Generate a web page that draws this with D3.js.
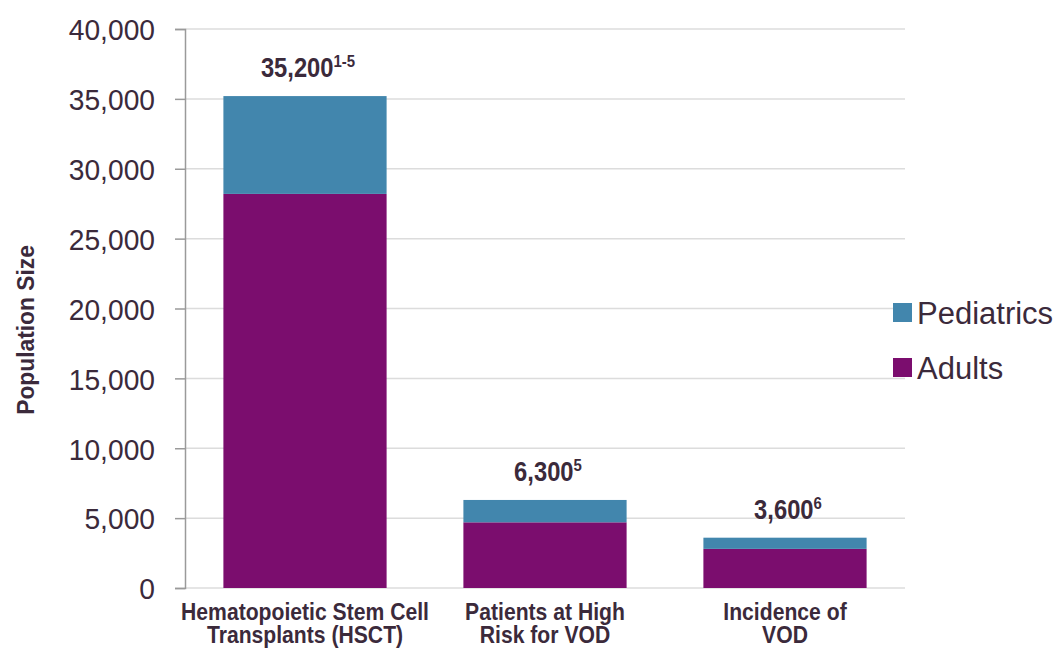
<!DOCTYPE html>
<html>
<head>
<meta charset="utf-8">
<script src="https://cdn.jsdelivr.net/npm/d3@7"></script>
<style>
  html, body { margin: 0; padding: 0; background: #ffffff; }
  svg { display: block; }
  text { font-family: "Liberation Sans", Arial, sans-serif; fill: #3b2a3b; }
</style>
</head>
<body>
<svg id="chart" width="1063" height="657"></svg>
<script>
// Population sizes by patient group
const categories = [
  ["Hematopoietic Stem Cell", "Transplants (HSCT)"],
  ["Patients at High", "Risk for VOD"],
  ["Incidence of", "VOD"]
];
const adults = [28200, 4700, 2800];
const pediatrics = [7000, 1600, 800];
const totalLabels = ["35,200", "6,300", "3,600"];
const totalRefs = ["1-5", "5", "6"];
const yTicks = [0, 5000, 10000, 15000, 20000, 25000, 30000, 35000, 40000];
const seriesNames = ["Adults", "Pediatrics"];
const seriesColors = ["#7b0d6e", "#4286ad"];

const svg = d3.select("#chart");
const catKeys = categories.map(c => c.join(" "));

const rows = catKeys.map((k, i) => ({ key: k, Adults: adults[i], Pediatrics: pediatrics[i] }));
const stacked = d3.stack().keys(seriesNames)(rows);

const x = d3.scaleBand()
  .domain(catKeys)
  .range([185, 905])
  .paddingInner(0.32)
  .paddingOuter(0.16);

const y = d3.scaleLinear()
  .domain([0, 40000])
  .range([588, 29]);

const color = d3.scaleOrdinal().domain(seriesNames).range(seriesColors);

// slight horizontal condensing used for the heavier text
const squeeze = 0.92;

// horizontal gridlines
svg.append("g")
  .selectAll("line")
  .data(yTicks)
  .join("line")
  .attr("x1", 185)
  .attr("x2", 905)
  .attr("y1", d => y(d))
  .attr("y2", d => y(d))
  .attr("stroke", "#dcdcdc")
  .attr("stroke-width", 1.5);

// y axis
const yAxis = svg.append("g")
  .attr("transform", "translate(185,0)")
  .call(d3.axisLeft(y).tickValues(yTicks).tickFormat(d3.format(",")).tickSize(10).tickPadding(20));
yAxis.select(".domain").attr("stroke", "#9a9a9a").attr("stroke-width", 1.5);
yAxis.selectAll(".tick line").attr("stroke", "#9a9a9a").attr("stroke-width", 1.5);
yAxis.selectAll(".tick text")
  .attr("font-size", 30)
  .attr("font-family", "\"Liberation Sans\", Arial, sans-serif")
  .attr("fill", "#3b2a3b")
  .attr("x", -30 / 0.94)
  .attr("dy", "0.36em")
  .attr("transform", "scale(0.94,1)");

// stacked bars
svg.append("g")
  .selectAll("g")
  .data(stacked)
  .join("g")
  .attr("fill", d => color(d.key))
  .selectAll("rect")
  .data(d => d)
  .join("rect")
  .attr("x", d => x(d.data.key))
  .attr("width", x.bandwidth())
  .attr("y", d => y(d[1]))
  .attr("height", d => y(d[0]) - y(d[1]));

// total labels with reference superscripts
const totals = catKeys.map((k, i) => ({ key: k, total: adults[i] + pediatrics[i], label: totalLabels[i], ref: totalRefs[i] }));
const tl = svg.append("g")
  .selectAll("text")
  .data(totals)
  .join("text")
  .attr("transform", d => `translate(${x(d.key) + x.bandwidth() / 2 + 3},${y(d.total) - 19}) scale(0.88,1)`)
  .attr("text-anchor", "middle")
  .attr("font-weight", "bold")
  .attr("font-size", 27);
tl.append("tspan").text(d => d.label);
tl.append("tspan")
  .attr("font-size", 17)
  .attr("dy", -10)
  .text(d => d.ref);

// category labels
const cl = svg.append("g")
  .selectAll("text")
  .data(categories)
  .join("text")
  .attr("text-anchor", "middle")
  .attr("font-weight", "bold")
  .attr("font-size", 23)
  .attr("transform", (d, i) => `translate(${x(catKeys[i]) + x.bandwidth() / 2},620) scale(${squeeze},1)`);
cl.selectAll("tspan")
  .data(d => d)
  .join("tspan")
  .attr("x", 0)
  .attr("y", (d, j) => j * 23.5)
  .text(d => d);

// y axis title
svg.append("text")
  .attr("transform", "translate(34,330) rotate(-90) scale(0.95,1)")
  .attr("text-anchor", "middle")
  .attr("font-weight", "bold")
  .attr("font-size", 24)
  .text("Population Size");

// legend
const legendItems = ["Pediatrics", "Adults"];
const lg = svg.append("g")
  .selectAll("g")
  .data(legendItems)
  .join("g")
  .attr("transform", (d, i) => `translate(893,${303 + i * 55})`);
lg.append("rect")
  .attr("width", 19)
  .attr("height", 19)
  .attr("fill", d => color(d));
lg.append("text")
  .attr("x", 24)
  .attr("y", 20.5)
  .attr("font-size", 31)
  .text(d => d);
</script>
</body>
</html>
